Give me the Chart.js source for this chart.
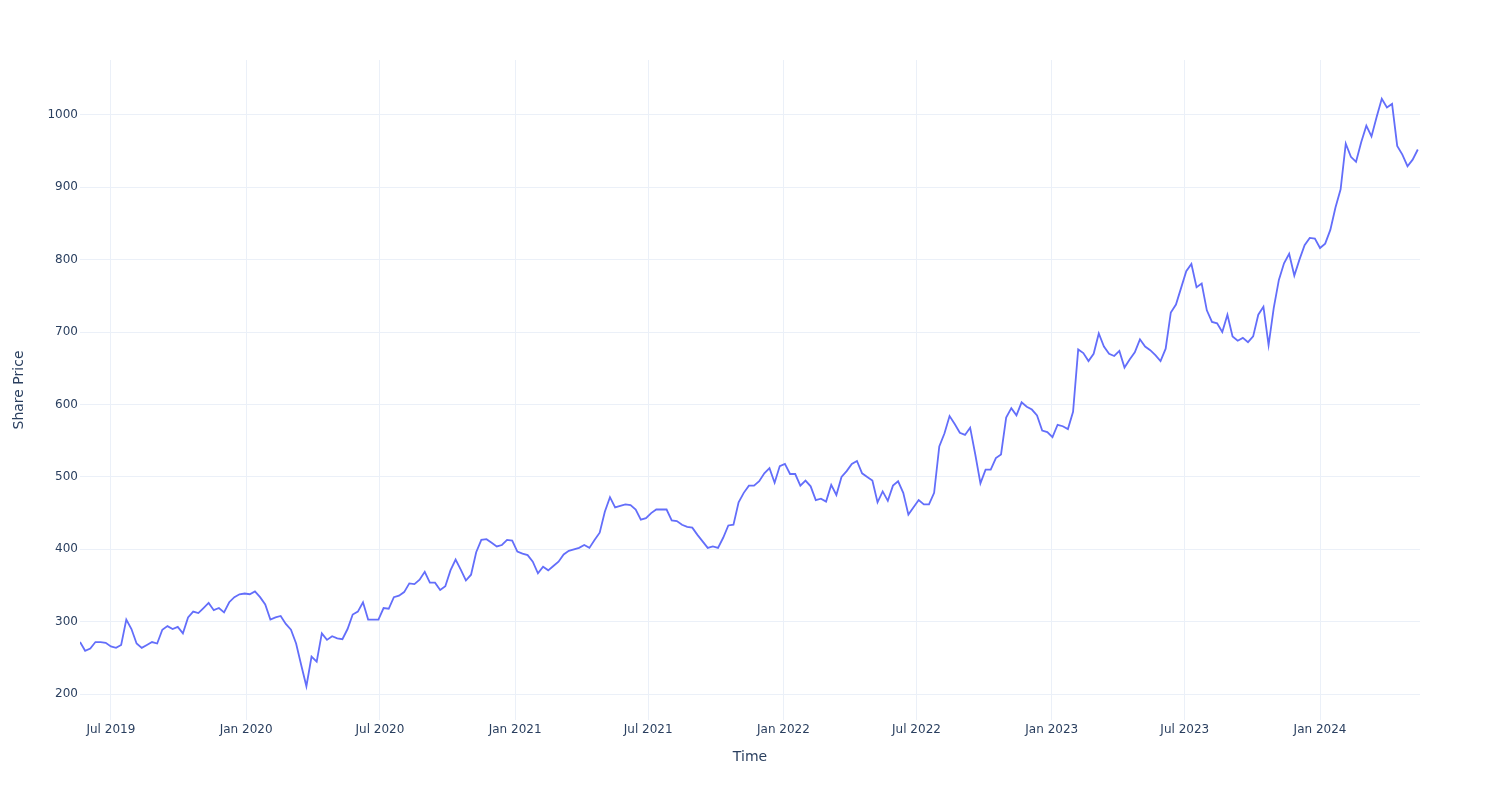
<!DOCTYPE html>
<html><head><meta charset="utf-8">
<script src="https://cdn.jsdelivr.net/npm/chart.js@4.4.1/dist/chart.umd.min.js"></script>
<style>html,body{margin:0;padding:0;background:#fff}#wrap{width:1500px;height:800px}</style>
</head><body>
<div id="wrap"><canvas id="c" width="1500" height="800"></canvas></div>
<script>
// Weekly samples (first sample on startDate, then every 7 days)
const startDate = '2019-05-20';
const endDate = '2024-05-16';
const weeklyPrices = [
  272,260,263,272,272,271,266,264,268,303,
  290,270,264,268,272,270,289,294,290,293,
  284,306,314,312,319,326,316,319,313,327,
  334,338,339,338,342,334,324,303,306,308,
  297,289,270,240,211,252,245,284,275,280,
  277,276,290,310,314,327,303,303,303,319,
  318,334,336,341,353,352,358,369,354,354,
  344,349,371,386,372,357,365,396,413,414,
  409,404,406,413,412,397,394,392,383,367,
  376,371,377,383,393,398,400,402,406,402,
  413,423,452,472,458,460,462,461,455,441,
  443,450,455,455,455,440,439,434,431,430,
  420,411,402,404,402,416,433,434,465,478,
  488,488,494,505,512,492,515,518,504,504,
  488,495,487,468,470,466,489,475,500,508,
  518,522,505,500,495,465,480,467,488,494,
  478,448,458,468,462,462,478,542,560,584,
  573,561,558,568,531,491,510,510,526,531,
  582,595,585,603,597,593,585,564,562,555,
  572,570,566,590,676,671,660,670,698,680,
  670,667,674,651,662,672,690,680,675,668,
  660,677,727,738,761,784,794,762,767,730,
  714,712,700,724,694,688,692,686,694,724,
  735,682,733,772,795,808,778,800,820,830,
  829,816,822,841,872,897,960,942,935,962,
  985,970,997,1022,1010,1015,957,945,929,938,
  952
];
const xTickDates = ['2019-07-01','2020-01-01','2020-07-01','2021-01-01','2021-07-01','2022-01-01','2022-07-01','2023-01-01','2023-07-01','2024-01-01'];
const xTickLabels = ['Jul 2019','Jan 2020','Jul 2020','Jan 2021','Jul 2021','Jan 2022','Jul 2022','Jan 2023','Jul 2023','Jan 2024'];
const yTicks = [200,300,400,500,600,700,800,900,1000];
const yMin = 164.4, yMax = 1075.6;

const DAY = 86400000;
function toDay(s){const p=s.split('-').map(Number);return Date.UTC(p[0],p[1]-1,p[2])/DAY;}
const d0 = toDay(startDate);
const points = weeklyPrices.map((v,i)=>({x:d0+7*i,y:v}));

const FONT = 'DejaVu Sans';
const TXT = '#2a3f5f';
const GRID = '#ebf0f8';
Chart.defaults.font.family = FONT;

new Chart(document.getElementById('c'), {
  type: 'line',
  data: { datasets: [{ data: points, borderColor: '#636efa', borderWidth: 1.8, pointRadius: 0, tension: 0, fill: false }] },
  options: {
    responsive: false, animation: false, devicePixelRatio: 1,
    layout: { padding: { left: 0, top: 60, right: 80, bottom: 0 } },
    plugins: { legend: { display: false }, tooltip: { enabled: false } },
    scales: {
      x: {
        type: 'linear', min: d0, max: toDay(endDate),
        afterBuildTicks: s => { s.ticks = xTickDates.map(d => ({ value: toDay(d) })); },
        afterFit: s => { s.height = 80; },
        ticks: { callback: (v, i) => xTickLabels[i], autoSkip: false, maxRotation: 0, padding: 3, color: TXT, font: { size: 12 } },
        grid: { color: GRID, lineWidth: 1, drawTicks: false },
        border: { display: false },
        title: { display: true, text: 'Time', color: TXT, font: { size: 14 }, padding: { top: 0, bottom: 34 } }
      },
      y: {
        type: 'linear', min: yMin, max: yMax,
        afterBuildTicks: s => { s.ticks = yTicks.map(v => ({ value: v })); },
        afterFit: s => { s.width = 80; },
        ticks: { callback: v => String(v), padding: 2, color: TXT, font: { size: 12 } },
        grid: { color: GRID, lineWidth: 1, drawTicks: false },
        border: { display: false },
        title: { display: true, text: 'Share Price', color: TXT, font: { size: 14 }, padding: { top: 11, bottom: 0 } }
      }
    }
  }
});
</script>
</body></html>
